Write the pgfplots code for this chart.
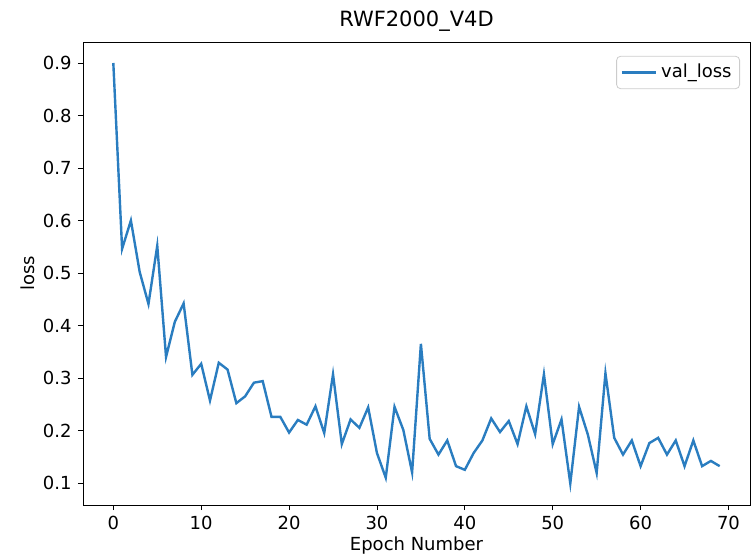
\documentclass[border=0pt]{standalone}
\usepackage{fontspec}
\setmainfont{DejaVu Sans}
\usepackage{pgfplots}
\pgfplotsset{compat=1.18}
\definecolor{tabblue}{HTML}{2A7DC0}
\begin{document}
\fontsize{9}{11}\selectfont
\begin{tikzpicture}
\begin{axis}[
  scale only axis,
  width=333.5pt, height=231.5pt,
  xmin=-3.45, xmax=72.45,
  ymin=0.058, ymax=0.94,
  xtick={0,10,...,70},
  ytick={0.1,0.2,...,0.9},
  yticklabel style={/pgf/number format/.cd, fixed, fixed zerofill, precision=1},
  /pgf/number format/assume math mode=true,
  tick align=outside,
  tick pos=left,
  major tick length=2.5pt,
  tick style={black, line width=0.4pt},
  axis line style={line width=0.4pt},
  ticklabel style={font=\fontsize{9}{11}\selectfont},
  title={RWF2000\_V4D},
  title style={font=\fontsize{10.5}{12}\selectfont, yshift=-4pt},
  xlabel={Epoch Number},
  ylabel={loss},
  label style={font=\fontsize{9}{11}\selectfont},
  xlabel style={yshift=3pt},
  ylabel style={yshift=-2pt},
  legend style={at={(0.985,0.97)}, anchor=north east, draw=black!20, rounded corners=2pt,
    font=\fontsize{9}{11}\selectfont, inner sep=2pt},
  legend cell align=left,
]
\addplot[color=tabblue, line width=1.2pt] coordinates {
(0,0.900)(1,0.546)(2,0.600)(3,0.502)(4,0.441)(5,0.552)(6,0.340)(7,0.407)(8,0.442)(9,0.306)
(10,0.327)(11,0.257)(12,0.329)(13,0.316)(14,0.252)(15,0.265)(16,0.291)(17,0.294)(18,0.226)(19,0.226)
(20,0.196)(21,0.220)(22,0.211)(23,0.246)(24,0.195)(25,0.307)(26,0.174)(27,0.221)(28,0.205)(29,0.244)
(30,0.157)(31,0.110)(32,0.245)(33,0.201)(34,0.120)(35,0.365)(36,0.184)(37,0.154)(38,0.181)(39,0.132)
(40,0.125)(41,0.157)(42,0.181)(43,0.223)(44,0.197)(45,0.218)(46,0.174)(47,0.246)(48,0.193)(49,0.307)
(50,0.174)(51,0.221)(52,0.099)(53,0.245)(54,0.192)(55,0.119)(56,0.309)(57,0.186)(58,0.154)(59,0.181)
(60,0.132)(61,0.176)(62,0.186)(63,0.154)(64,0.181)(65,0.132)(66,0.181)(67,0.132)(68,0.142)(69,0.132)
};
\addlegendentry{val\_loss}
\end{axis}
\useasboundingbox ([xshift=-41.5pt, yshift=-17pt]current axis.south west) rectangle ([xshift=1.5pt, yshift=21pt]current axis.north east);
\end{tikzpicture}
\end{document}
